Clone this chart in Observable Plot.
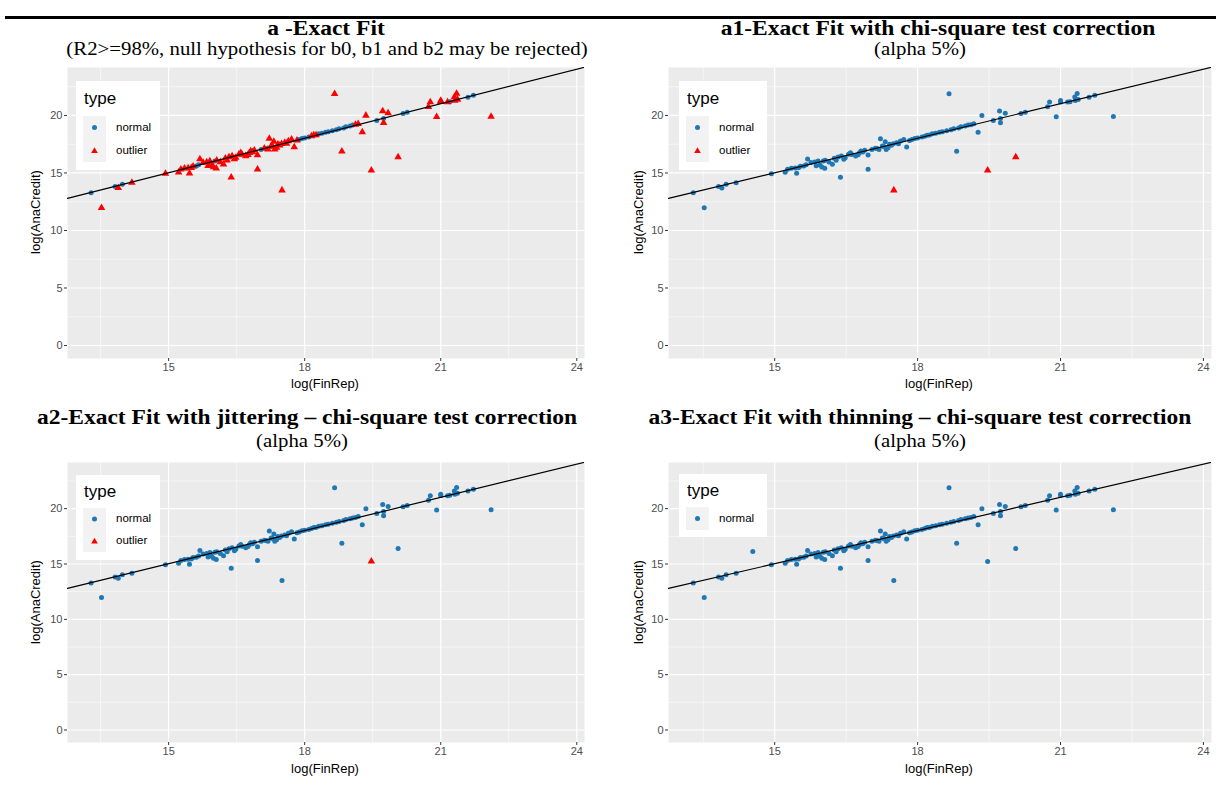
<!DOCTYPE html>
<html><head><meta charset="utf-8">
<script src="https://cdn.jsdelivr.net/npm/d3@7"></script>
<script src="https://cdn.jsdelivr.net/npm/@observablehq/plot@0.6"></script>
<style>
body{margin:0;background:#fff;width:1216px;height:789px;overflow:hidden;position:relative;font-family:"Liberation Sans",Arial,sans-serif}
.t{position:absolute;font-family:"Liberation Serif","Times New Roman",serif;white-space:nowrap;transform-origin:50% 0;transform:translateX(-50%) scaleY(0.9);line-height:1;color:#000}
.tb{font-weight:bold;font-size:23.5px}
.ts{font-size:20.8px}
.rule{position:absolute;left:5px;right:0;top:16px;height:3px;background:#000}
.ax{position:absolute;font-size:13px;color:#000;white-space:nowrap;line-height:1}
.leg{position:absolute;background:#fff}
.leg .lt{position:absolute;font-size:17px;line-height:1}
.leg .key{position:absolute;background:#F2F2F2}
.leg .ll{position:absolute;font-size:11.5px;line-height:1}
svg.plot{position:absolute}
</style></head>
<body>
<div class="rule"></div>
<script>
// ---- data ----
const finRep = [13.29,13.52,13.82,13.89,13.98,14.19,14.93,15.22,15.27,15.43,15.46,15.54,15.61,15.69,15.76,15.84,15.91,15.95,15.99,16.05,16.06,16.14,16.21,16.25,16.29,16.38,16.40,16.48,16.55,16.59,16.70,16.78,16.81,16.89,16.96,16.96,17.04,17.11,17.19,17.22,17.26,17.32,17.34,17.41,17.49,17.50,17.56,17.64,17.71,17.77,17.83,17.94,18.09,18.20,18.31,18.46,18.61,18.66,18.76,18.82,18.91,19.06,19.18,19.27,19.35,19.47,19.59,19.72,19.74,19.74,19.84,20.06,20.17,20.26,20.73,20.77,20.91,21.00,21.00,21.15,21.20,21.30,21.35,21.37,21.31,21.60,21.72,22.11,
15.35,15.50,15.66,16.02,16.33,16.62,16.85,17.15,17.29,17.45,17.60,17.88,18.00,18.15,18.25,18.38,18.52,18.70,18.86,19.00,19.12,16.45,16.75,17.38,15.87];
const anaCredit = [13.29,11.97,13.82,13.70,14.02,14.16,14.94,15.06,15.32,15.43,14.97,15.58,15.61,16.21,15.90,15.95,16.04,15.69,15.52,15.40,16.10,15.95,15.75,16.27,16.10,14.62,16.47,16.33,16.62,16.76,16.47,16.76,16.91,16.97,15.32,16.56,17.05,17.14,17.05,17.98,17.34,17.72,17.05,17.49,17.54,13.50,17.63,17.77,17.92,17.25,17.83,18.00,18.12,18.29,18.41,18.55,18.67,21.88,18.84,16.88,19.02,19.16,19.28,18.55,20.00,15.23,19.57,20.38,19.36,19.74,20.20,16.39,20.17,20.29,20.75,21.16,19.88,21.30,21.18,21.16,21.20,21.60,21.90,21.39,21.30,21.59,21.76,19.91,
15.40,15.45,15.72,16.05,16.38,16.60,16.82,17.12,17.30,17.40,17.55,17.90,18.05,18.20,18.30,18.45,18.58,18.76,18.92,19.08,19.20,16.20,16.58,17.20,15.62];
// panel a: indices of points classed "normal" (all others are outliers)
const normalA = [0,2,4,12,90,91,36,95,51,99,100,52,54,55,56,58,60,61,103,104,105,106,107,66,69,72,73,80,85,86];
// panel a1 / a2: indices of outliers
const outliersA1 = [45,65,71];
const outliersA2 = [65];
// panel a3 (thinning): all normal, plus one extra point
const extraA3FinRep = [14.54];
const extraA3AnaCredit = [16.12];
// fitted line
const fitIntercept = 0.02, fitSlope = 1.0;
// axes
const xDomain = [12.77, 24.17], yDomain = [-1.13, 24.17];
const xTicks = [15,18,21,24], yTicks = [0,5,10,15,20];
const xMinor = [13.5,16.5,19.5,22.5], yMinor = [2.5,7.5,12.5,17.5,22.5];
const typeNames = ["normal","outlier"];
const typeColors = ["#1F78B4","#FF0000"];

function rows(typeFn, extraX = [], extraY = []) {
  const r = finRep.map((x,i) => ({x, y: anaCredit[i], type: typeFn(i)}));
  extraX.forEach((x,i) => r.push({x, y: extraY[i], type: "normal"}));
  return r;
}
const dataA  = rows(i => normalA.includes(i) ? "normal" : "outlier");
const dataA1 = rows(i => outliersA1.includes(i) ? "outlier" : "normal");
const dataA2 = rows(i => outliersA2.includes(i) ? "outlier" : "normal");
const dataA3 = rows(() => "normal", extraA3FinRep, extraA3AnaCredit);
const fitLine = xDomain.map(x => ({x, y: fitIntercept + fitSlope * x}));

function panel(data, svgLeft, svgTop, mL, mR, pW, mT, pH, mB) {
  const p = Plot.plot({
    width: mL + pW + mR, height: mT + pH + mB,
    marginLeft: mL, marginRight: mR, marginTop: mT, marginBottom: mB,
    style: {fontFamily: '"Liberation Sans", Arial, sans-serif', background: "transparent"},
    x: {domain: xDomain}, y: {domain: yDomain},
    color: {domain: typeNames, range: typeColors},
    marks: [
      Plot.frame({fill: "#EBEBEB", stroke: null}),
      Plot.gridX(xMinor, {stroke: "#fff", strokeOpacity: 1, strokeWidth: 0.55}),
      Plot.gridY(yMinor, {stroke: "#fff", strokeOpacity: 1, strokeWidth: 0.55}),
      Plot.gridX(xTicks, {stroke: "#fff", strokeOpacity: 1, strokeWidth: 1.2}),
      Plot.gridY(yTicks, {stroke: "#fff", strokeOpacity: 1, strokeWidth: 1.2}),
      Plot.axisX(xTicks, {tickSize: 3, tickPadding: 2, stroke: "#333", color: "#4D4D4D", fontSize: 11, label: null}),
      Plot.axisY(yTicks, {tickSize: 3, tickPadding: 2, stroke: "#333", color: "#4D4D4D", fontSize: 11, label: null}),
      Plot.dot(data.filter(d => d.type === "normal"), {x: "x", y: "y", fill: "type", r: 2.5, symbol: "circle"}),
      Plot.dot(data.filter(d => d.type === "outlier"), {x: "x", y: "y", fill: "type", r: 2.8, symbol: "triangle"}),
      Plot.line(fitLine, {x: "x", y: "y", stroke: "#000", strokeWidth: 1.2, clip: true})
    ]
  });
  p.classList.add("plot");
  p.style.left = svgLeft + "px"; p.style.top = svgTop + "px";
  document.body.appendChild(p);
}

function addDiv(cls, text, css) {
  const d = document.createElement("div");
  d.className = cls; d.textContent = text;
  Object.assign(d.style, css);
  document.body.appendChild(d);
  return d;
}

function legend(left, top, w, h, items, typeTop, keyLeft, keyTop, rowH) {
  const box = document.createElement("div");
  box.className = "leg";
  Object.assign(box.style, {left: left + "px", top: top + "px", width: w + "px", height: h + "px"});
  const t = document.createElement("div"); t.className = "lt"; t.textContent = "type";
  Object.assign(t.style, {left: "8px", top: typeTop + "px"});
  box.appendChild(t);
  items.forEach((name, i) => {
    const k = document.createElement("div"); k.className = "key";
    Object.assign(k.style, {left: keyLeft + "px", top: (keyTop + i * rowH) + "px", width: "23px", height: rowH + "px"});
    const ns = "http://www.w3.org/2000/svg";
    const s = document.createElementNS(ns, "svg");
    s.setAttribute("width", 23); s.setAttribute("height", rowH);
    let sh;
    if (name === "normal") {
      sh = document.createElementNS(ns, "circle");
      sh.setAttribute("cx", 11.5); sh.setAttribute("cy", rowH / 2); sh.setAttribute("r", 2.5);
    } else {
      sh = document.createElementNS(ns, "path");
      const cx = 11.5, cy = rowH / 2;
      sh.setAttribute("d", `M${cx},${cy - 3.2}L${cx + 3.3},${cy + 2.5}L${cx - 3.3},${cy + 2.5}Z`);
    }
    sh.setAttribute("fill", typeColors[typeNames.indexOf(name)]);
    s.appendChild(sh); k.appendChild(s); box.appendChild(k);
    const l = document.createElement("div"); l.className = "ll"; l.textContent = name;
    Object.assign(l.style, {left: (keyLeft + 33) + "px", top: (keyTop + i * rowH + rowH / 2 - 6) + "px"});
    box.appendChild(l);
  });
  document.body.appendChild(box);
}

// titles
addDiv("t tb", "a -Exact Fit", {left: "326px", top: "17.8px"});
addDiv("t ts", "(R2>=98%, null hypothesis for b0, b1 and b2 may be rejected)", {left: "327px", top: "39.6px"});
addDiv("t tb", "a1-Exact Fit with chi-square test correction", {left: "938px", top: "17.8px"});
addDiv("t ts", "(alpha 5%)", {left: "920px", top: "39.6px"});
addDiv("t tb", "a2-Exact Fit with jittering – chi-square test correction", {left: "307px", top: "407.1px"});
addDiv("t ts", "(alpha 5%)", {left: "302px", top: "432.3px"});
addDiv("t tb", "a3-Exact Fit with thinning – chi-square test correction", {left: "920px", top: "407.1px"});
addDiv("t ts", "(alpha 5%)", {left: "920px", top: "432.3px"});

// panels
panel(dataA,  0,   60,  67, 6, 517, 7, 291, 25);
panel(dataA1, 610, 60,  58, 5, 543, 7, 291, 25);
panel(dataA2, 0,   455, 67, 6, 517, 7, 280, 25);
panel(dataA3, 610, 455, 58, 5, 543, 7, 280, 25);

// axis titles
[[325, 377], [939, 377], [325, 762], [939, 762]].forEach(([x, y]) =>
  addDiv("ax", "log(FinRep)", {left: x + "px", top: y + "px", transform: "translateX(-50%)"}));
[[35, 212], [638, 212], [35, 602], [638, 602]].forEach(([x, y]) =>
  addDiv("ax", "log(AnaCredit)", {left: x + "px", top: y + "px", transform: "translate(-50%,-50%) rotate(-90deg)"}));

// legends
legend(76, 81, 84, 89, ["normal", "outlier"], 9, 7, 35, 23);
legend(679, 81, 88, 89, ["normal", "outlier"], 9, 7, 35, 23);
legend(76, 475, 84, 85, ["normal", "outlier"], 8, 7, 33, 22);
legend(679, 474, 88, 63, ["normal"], 8, 7, 33, 23);
</script>
</body></html>
